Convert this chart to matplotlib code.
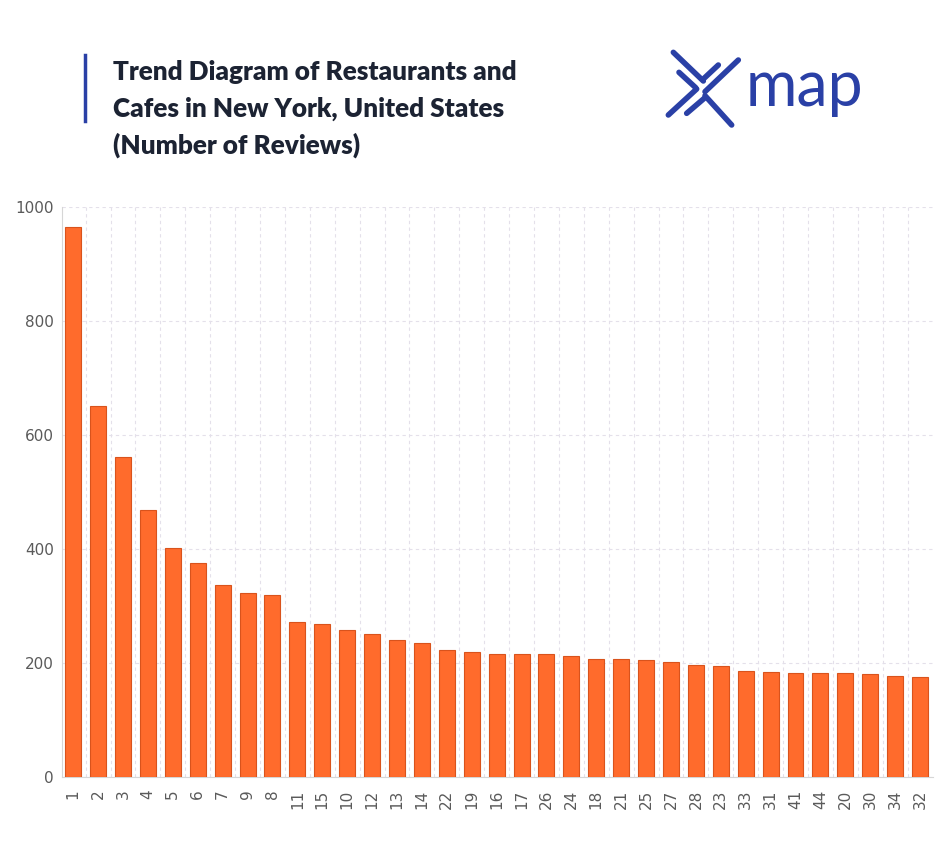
import matplotlib
matplotlib.use("Agg")
import matplotlib.pyplot as plt
from matplotlib.lines import Line2D
import numpy as np

# restaurant ranks (as shown on the x axis) and their review counts
labels = ["1", "2", "3", "4", "5", "6", "7", "9", "8", "11", "15", "10", "12",
          "13", "14", "22", "19", "16", "17", "26", "24", "18", "21", "25",
          "27", "28", "23", "33", "31", "41", "44", "20", "30", "34", "32"]
reviews = [965, 651, 561, 468, 402, 375, 337, 323, 319, 272, 268, 258, 251,
           240, 235, 223, 219, 216, 216, 215, 212, 207, 207, 205,
           202, 197, 195, 186, 184, 183, 183, 182, 180, 177, 175]
y_ticks = [0, 200, 400, 600, 800, 1000]

plt.rcParams["font.family"] = ["DejaVu Sans"]

W, H = 945, 848
fig = plt.figure(figsize=(W / 100, H / 100), dpi=100)
fig.patch.set_facecolor("white")

ax = fig.add_axes([62 / W, 1 - 777 / H, (933 - 62) / W, (777 - 207) / H])
x = np.arange(len(labels))
ax.bar(x, reviews, width=0.64, color="#ff6b2c", edgecolor="#d9531c",
       linewidth=0.8, zorder=3)
ax.set_xlim(-0.45, len(labels) - 0.48)
ax.set_ylim(0, 1000)
ax.set_yticks(y_ticks)
ax.set_xticks(x)
ax.set_xticklabels(labels, rotation=90)
ax.tick_params(axis="both", colors="#5a5a5a", labelsize=11, length=0, pad=6)
ax.tick_params(axis="x", pad=9)

# dashed grid: horizontal at ticks, vertical between the bars
ax.set_xticks(x[:-1] + 0.5, minor=True)
ax.grid(True, axis="y", which="major", color="#e4e0ea", linestyle=(0, (3, 3)),
        linewidth=0.8, zorder=0)
ax.grid(True, axis="x", which="minor", color="#e4e0ea", linestyle=(0, (3, 3)),
        linewidth=0.8, zorder=0)
ax.tick_params(axis="x", which="minor", length=0)
for s in ["top", "right"]:
    ax.spines[s].set_visible(False)
ax.spines["left"].set_color("#d6d6d6")
ax.spines["bottom"].set_color("#d6d6d6")

# title block
blue = "#2a40a6"
fig.add_artist(Line2D([85 / W, 85 / W], [1 - 55 / H, 1 - 121 / H],
                      color=blue, linewidth=2.5))
title_lines = ["Trend Diagram of Restaurants and",
               "Cafes in New York, United States",
               "(Number of Reviews)"]
for i, t in enumerate(title_lines):
    fig.text(113 / W, 1 - (72 + 36.5 * i) / H, t, fontsize=18.8,
             fontweight="heavy", family="Lato", color="#1c2333", va="center")

# logo: an X built from offset strokes, then the word "map"
def px(xp, yp):
    return [(655 + a / 3) / W for a in xp], [1 - (45 + b / 3) / H for b in yp]

strokes = [([55, 145], [22, 108]),
           ([72, 122], [82, 128]),
           ([250, 150], [45, 140]),
           ([190, 145], [60, 102]),
           ([125, 40], [132, 210]),
           ([150, 95], [158, 205]),
           ([150, 230], [152, 240])]
for sx, sy in strokes:
    lx, ly = px(sx, sy)
    fig.add_artist(Line2D(lx, ly, color=blue, linewidth=4,
                          solid_capstyle="round"))
fig.text(746 / W, 1 - 88 / H, "map", fontsize=45, family="Lato",
         color=blue, va="center")

fig.savefig("out.png", dpi=100)
